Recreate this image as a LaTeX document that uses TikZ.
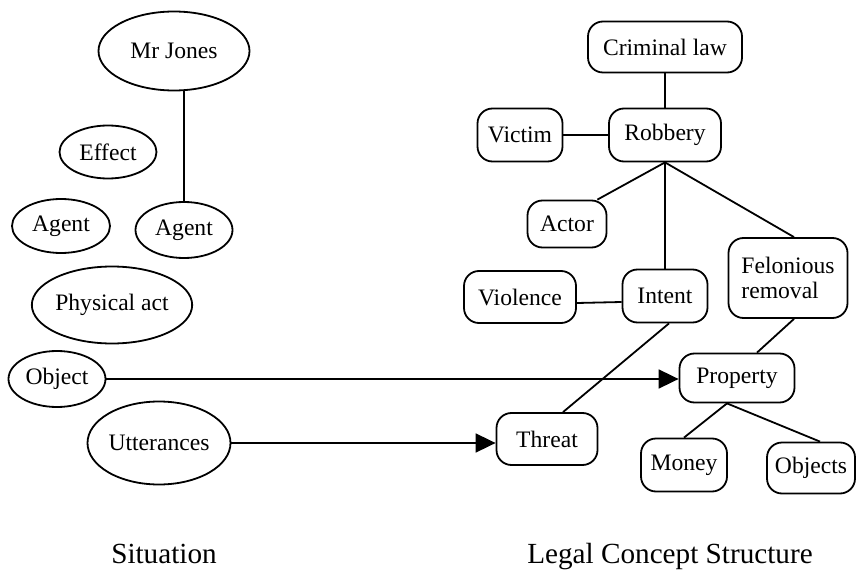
\documentclass[tikz,border=0pt]{standalone}
\usepackage{fontspec}
\setmainfont{Liberation Serif}
\usetikzlibrary{shapes.geometric,arrows.meta}
\begin{document}
\begin{tikzpicture}[x={(0.5pt,0)},y={(0,-0.5pt)},
  line width=0.9pt,
  every node/.style={font=\fontsize{11.8}{12.5}\selectfont, inner sep=0pt},
  sit/.style={draw, ellipse, line width=0.9pt},
  concept/.style={draw, rectangle, rounded corners=7.5pt, line width=0.9pt},
  title/.style={font=\fontsize{14.6}{16}\selectfont, anchor=base},
  link/.style={-{Triangle[length=10pt,width=9.5pt]}}]
\useasboundingbox (0,0) rectangle (856,572);

% situation side
\node[sit, minimum width=75.5pt, minimum height=39.5pt] (mj) at (174,51) {Mr Jones};
\node[sit, minimum width=48.5pt, minimum height=26.5pt] (eff) at (108,152) {Effect};
\node[sit, minimum width=49pt, minimum height=27pt] (ag1) at (61,226) {Agent};
\node[sit, minimum width=48.5pt, minimum height=28pt] (ag2) at (184,230) {Agent};
\node[sit, minimum width=75.5pt, minimum height=38.5pt] (phys) at (112,305) {Physical act};
\node[sit, minimum width=48.5pt, minimum height=28pt] (obj) at (57,379) {Object};
\node[sit, minimum width=71.5pt, minimum height=41.5pt] (utt) at (159,443) {Utterances};

% legal concept structure
\node[concept, minimum width=77pt, minimum height=25.5pt] (crim) at (665,47) {Criminal law};
\node[concept, minimum width=42.5pt, minimum height=26.5pt] (vic) at (520,135) {Victim};
\node[concept, minimum width=56pt, minimum height=26.5pt] (rob) at (665,135) {Robbery};
\node[concept, minimum width=39.5pt, minimum height=23.5pt] (act) at (567,224) {Actor};
\node[concept, minimum width=56pt, minimum height=26pt] (vio) at (520,297) {Violence};
\node[concept, minimum width=42.5pt, minimum height=26.5pt] (int) at (665,296) {Intent};
\node[concept, minimum width=59.5pt, minimum height=40pt, align=left] (fel) at (788,278) {Felonious\\removal};
\node[concept, minimum width=57.5pt, minimum height=24.5pt] (prop) at (737,378) {Property};
\node[concept, minimum width=50.5pt, minimum height=26pt] (thr) at (547,439) {Threat};
\node[concept, minimum width=43pt, minimum height=26.5pt] (mon) at (684,465) {Money};
\node[concept, minimum width=44pt, minimum height=25.5pt] (objs) at (811,468) {Objects};

% captions
\node[title] (lsit) at (164,563) {Situation};
\node[title] (lleg) at (670,563) {Legal Concept Structure};

% structure links
\draw (ag2.north) -- (ag2.north |- mj.south);
\draw (crim) -- (rob);
\draw (vic) -- (rob);
\draw (rob.south) -- ([xshift=-5pt]act.north east);
\draw (rob.south) -- (int.north);
\draw (rob.south) -- ([xshift=3pt]fel.north);
\draw ([yshift=-3pt]vio.east) -- ([yshift=-3pt]int.west);
\draw ([xshift=2pt]int.south) -- ([xshift=8pt]thr.north);
\draw ([xshift=3pt]fel.south) -- ([xshift=10pt]prop.north);
\draw ([xshift=-5pt]prop.south) -- (mon.north);
\draw ([xshift=-5pt]prop.south) -- ([xshift=4.5pt]objs.north);

% mappings from situation to concepts
\draw[link] (obj.east) -- (obj.east -| prop.west);
\draw[link] (utt.east) -- (utt.east -| thr.west);
\end{tikzpicture}
\end{document}
